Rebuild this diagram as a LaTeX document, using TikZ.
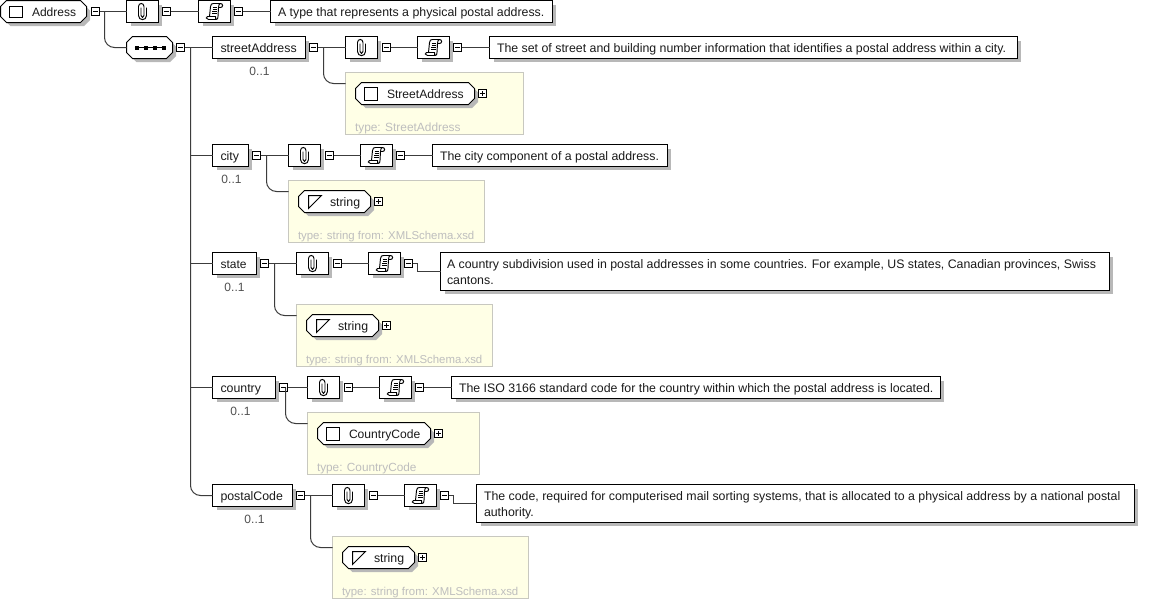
\documentclass[tikz,border=0pt]{standalone}
\usepackage{fontspec}
\setmainfont{Liberation Sans}
\definecolor{shade}{HTML}{B8B8B8}
\definecolor{ink}{HTML}{1A1A1A}
\definecolor{linec}{HTML}{3C3C3C}
\definecolor{pale}{HTML}{FFFFE6}
\definecolor{paleedge}{HTML}{C8C8C0}
\definecolor{palet}{HTML}{BEBEBE}
\definecolor{occ}{HTML}{505050}
\newcommand{\fs}[1]{\fontsize{#1}{14}\selectfont}
\tikzset{
  x=1pt,y=-1pt,
  wire/.style={draw=linec,line width=1pt},
  curvedwire/.style={wire,rounded corners=10pt},
  txt/.style={font=\fs{12.35},text=ink,inner sep=0pt,anchor=base west,xshift=-0.7pt},
  occtxt/.style={font=\fs{12},text=occ,inner sep=0pt},
  typetxt/.style={font=\fs{11.9},text=palet,inner sep=0pt,anchor=base west,xshift=-0.7pt},
  boxdraw/.style={draw=black,line width=1pt,fill=white},
  shadowfill/.style={fill=shade,draw=none},
  signbox/.style={draw=black,line width=1pt,fill=white,minimum size=8pt,inner sep=0pt,outer sep=0pt},
  yellowbox/.style={draw=paleedge,line width=1pt,fill=pale},
  glyph/.style={draw=black,line width=0.95pt},
}
\newcommand{\rbox}[5]{%
  \fill[shadowfill] (#2+4,#3+4) rectangle (#4+3.5,#5+3.5);
  \draw[boxdraw] (#2,#3) rectangle (#4,#5);
  \coordinate (#1) at (#2,{(#3+#5)/2});
}
\newcommand{\octpath}[4]{(#1+6,#2) -- (#3-6,#2) -- (#3,#2+6) -- (#3,#4-6) -- (#3-6,#4) -- (#1+6,#4) -- (#1,#4-6) -- (#1,#2+6) -- cycle}
\newcommand{\obox}[4]{%
  \fill[shadowfill] \octpath{#1+4}{#2+4}{#3+3.5}{#4+3.5};
  \draw[boxdraw] \octpath{#1}{#2}{#3}{#4};
}
\newcommand{\minusbox}[3]{%
  \node[signbox] (#1) at (#2,#3) {};
  \draw[black,line width=1pt] (#2-2.5,#3) -- (#2+2.5,#3);
}
\newcommand{\plusbox}[3]{%
  \node[signbox] (#1) at (#2,#3) {};
  \draw[black,line width=1pt] (#2-2.5,#3) -- (#2+2.5,#3) (#2,#3-2.5) -- (#2,#3+2.5);
}
\newcommand{\clipbox}[3]{%
  \rbox{#1}{#2}{#3}{#2+32}{#3+22}
  \begin{scope}[shift={(#2+16,#3+11)}]
    \draw[glyph] (-1.5,-4) -- (-1.5,4) .. controls (-1.5,6.5) and (1.5,6.5) .. (1.5,4) -- (1.5,-5)
      .. controls (1.5,-9) and (-4,-9) .. (-4,-5) -- (-4,4)
      .. controls (-4,9.5) and (4,9.5) .. (4,4) -- (4,-4);
  \end{scope}
}
\newcommand{\scrollbox}[3]{%
  \rbox{#1}{#2}{#3}{#2+32}{#3+22}
  \begin{scope}[shift={(#2+16,#3+11)}]
    \draw[glyph] (-5,5) -- (-4,-5) .. controls (-3.8,-7.5) and (-2.5,-8) .. (-1,-8) -- (6,-8)
      .. controls (8.8,-8) and (8.8,-4) .. (6,-4) -- (4,-4) -- (3.5,5)
      .. controls (3.5,7) and (3,8) .. (1.5,8) -- (-6,8)
      .. controls (-8.8,8) and (-8.8,5) .. (-7,5) -- (1,5) .. controls (0.8,6.5) and (1.5,8) .. (1.5,8);
    \draw[glyph] (4,-4) .. controls (4,-7) and (5,-8) .. (6,-8);
    \draw[glyph] (-2,-4.5) -- (2.5,-4.5) (-2,-2.5) -- (2.5,-2.5) (-2.4,-0.5) -- (2.2,-0.5) (-2.6,1.5) -- (2,1.5);
  \end{scope}
}
\begin{document}
\begin{tikzpicture}
\useasboundingbox (0,0) rectangle (1175,600);
\fill[white] (0,0) rectangle (1175,600);
\begin{scope}[shift={(0.5,0.5)}]
% --- Address row
\obox{0}{0}{86}{22}
\coordinate (addr) at (0,11);
\draw[boxdraw] (9,6) rectangle (22,17);
\node[txt,font=\fs{12}] (addrt) at (32,16) {Address};
\minusbox{m0}{95}{11}
\clipbox{c0}{126}{0}
\minusbox{m1}{166}{11}
\scrollbox{s0}{198}{0}
\minusbox{m2}{238}{11}
\rbox{d0}{270}{0}{552}{22}
\node[txt] at (278,16) {A type that represents a physical postal address.};
% --- sequence
\obox{126}{36}{172}{58}
\coordinate (seq) at (126,47);
\draw[black,line width=1.2pt] (134,47) -- (165,47);
\foreach \xx in {136,145,154,163}{\fill[black] (\xx-2,45) rectangle (\xx+2,49);}
\minusbox{m3}{180}{47}
% --- streetAddress
\rbox{e1}{212}{36}{305}{58}
\node[txt] at (220.5,52) {streetAddress};
\node[occtxt] at (259,71) {0..1};
\minusbox{m4}{313}{47}
\clipbox{c1}{345}{36}
\minusbox{m5}{386}{47}
\scrollbox{s1}{417}{36}
\minusbox{m6}{457}{47}
\rbox{d1}{489}{36}{1017}{58}
\node[txt] at (497,52) {The set of street and building number information that identifies a postal address within a city.};
\draw[yellowbox] (345,72) rectangle (523,134);
\coordinate (y1) at (345,83);
\obox{355}{82}{474}{104}
\draw[boxdraw] (364,87) rectangle (377,100);
\node[txt,font=\fs{12.1}] at (387,98) {StreetAddress};
\plusbox{p1}{482}{93}
\node[typetxt] at (355,131) {type: StreetAddress};
% --- city
\rbox{e2}{212}{144}{248}{166}
\node[txt] at (220.5,160) {city};
\node[occtxt] at (231,179) {0..1};
\minusbox{m7}{256}{155}
\clipbox{c2}{288}{144}
\minusbox{m8}{329}{155}
\scrollbox{s2}{360}{144}
\minusbox{m9}{400}{155}
\rbox{d2}{432}{144}{667}{166}
\node[txt] at (440,160) {The city component of a postal address.};
\draw[yellowbox] (288,180) rectangle (484,242);
\coordinate (y2) at (288,191);
\obox{298}{190}{370}{212}
\draw[boxdraw] (308,195) -- (321,195) -- (308,208) -- cycle;
\node[txt] at (330,206) {string};
\plusbox{p2}{378}{201}
\node[typetxt,font=\fs{11.4}] at (298,239) {type: string from: XMLSchema.xsd};
% --- state
\rbox{e3}{212}{252}{256}{274}
\node[txt,font=\fs{12}] at (220.5,268) {state};
\node[occtxt] at (234,287) {0..1};
\minusbox{m10}{264}{263}
\clipbox{c3}{296}{252}
\minusbox{m11}{337}{263}
\scrollbox{s3}{368}{252}
\minusbox{m12}{408}{263}
\rbox{d3}{440}{252}{1109}{290}
\node[txt] at (447,268) {A country subdivision used in postal addresses in some countries. For example, US states, Canadian provinces, Swiss};
\node[txt] at (447,284) {cantons.};
\draw[yellowbox] (296,304) rectangle (492,366);
\coordinate (y3) at (296,315);
\obox{306}{314}{378}{336}
\draw[boxdraw] (316,319) -- (329,319) -- (316,332) -- cycle;
\node[txt] at (338,330) {string};
\plusbox{p3}{386}{325}
\node[typetxt,font=\fs{11.4}] at (306,363) {type: string from: XMLSchema.xsd};
% --- country
\rbox{e4}{212}{376}{275}{398}
\node[txt] at (220.5,392) {country};
\node[occtxt] at (240,411) {0..1};
\minusbox{m13}{283}{387}
\clipbox{c4}{307}{376}
\minusbox{m14}{348}{387}
\scrollbox{s4}{379}{376}
\minusbox{m15}{419}{387}
\rbox{d4}{451}{376}{940}{398}
\node[txt] at (459,392) {The ISO 3166 standard code for the country within which the postal address is located.};
\draw[yellowbox] (307,412) rectangle (479,474);
\coordinate (y4) at (307,423);
\obox{317}{422}{430}{444}
\draw[boxdraw] (326,427) rectangle (339,440);
\node[txt,font=\fs{12.1}] at (349,438) {CountryCode};
\plusbox{p4}{438}{433}
\node[typetxt,font=\fs{11.8}] at (317,471) {type: CountryCode};
% --- postalCode
\rbox{e5}{212}{484}{292}{506}
\node[txt] at (220.5,500) {postalCode};
\node[occtxt] at (254,519) {0..1};
\minusbox{m16}{300}{495}
\clipbox{c5}{332}{484}
\minusbox{m17}{373}{495}
\scrollbox{s5}{404}{484}
\minusbox{m18}{444}{495}
\rbox{d5}{476}{484}{1134}{522}
\node[txt] at (484,500) {The code, required for computerised mail sorting systems, that is allocated to a physical address by a national postal};
\node[txt] at (484,516) {authority.};
\draw[yellowbox] (332,536) rectangle (528,598);
\coordinate (y5) at (332,547);
\obox{342}{546}{414}{568}
\draw[boxdraw] (352,551) -- (365,551) -- (352,564) -- cycle;
\node[txt] at (374,562) {string};
\plusbox{p5}{422}{557}
\node[typetxt,font=\fs{11.4}] at (342,595) {type: string from: XMLSchema.xsd};
% --- junction points
\coordinate (j0) at (104,11);
\coordinate (sp1) at (190,47);
\coordinate (sp2) at (190,155);
\coordinate (sp3) at (190,263);
\coordinate (sp4) at (190,387);
\coordinate (j1) at (323,47);
\coordinate (j2) at (266,155);
\coordinate (j3) at (274,263);
\coordinate (j4) at (285,387);
\coordinate (j5) at (310,495);
\coordinate (k3) at (417,263);
\coordinate (k5) at (453,495);
% --- connectors
\draw[wire] (m0) -- (c0);
\draw[wire] (m1) -- (s0);
\draw[wire] (m2) -- (d0);
\draw[curvedwire] (j0) |- (seq);
\draw[wire] (m3) -- (e1);
\draw[curvedwire] (sp1) |- (e5);
\draw[wire] (sp2) -- (e2);
\draw[wire] (sp3) -- (e3);
\draw[wire] (sp4) -- (e4);
\draw[wire] (m4) -- (c1);
\draw[wire] (m5) -- (s1);
\draw[wire] (m6) -- (d1);
\draw[curvedwire] (j1) |- (y1);
\draw[wire] (m7) -- (c2);
\draw[wire] (m8) -- (s2);
\draw[wire] (m9) -- (d2);
\draw[curvedwire] (j2) |- (y2);
\draw[wire] (m10) -- (c3);
\draw[wire] (m11) -- (s3);
\draw[wire] (m12) -- (k3) |- (d3);
\draw[curvedwire] (j3) |- (y3);
\draw[wire] (m13) -- (c4);
\draw[wire] (m14) -- (s4);
\draw[wire] (m15) -- (d4);
\draw[curvedwire] (j4) |- (y4);
\draw[wire] (m16) -- (c5);
\draw[wire] (m17) -- (s5);
\draw[wire] (m18) -- (k5) |- (d5);
\draw[curvedwire] (j5) |- (y5);
\end{scope}
\end{tikzpicture}
\end{document}
